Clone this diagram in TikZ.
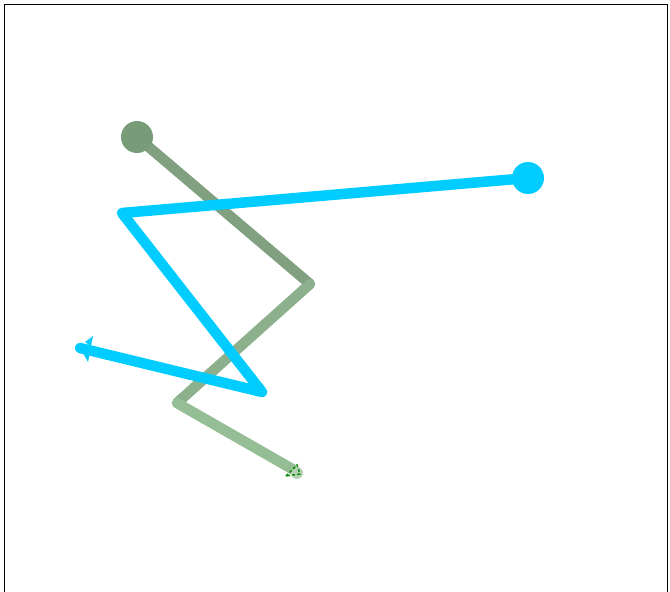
\documentclass[tikz,border=0pt]{standalone}
\usetikzlibrary{arrows.meta}
\definecolor{cyanline}{RGB}{0,204,255}
\definecolor{greenA}{RGB}{128,160,128}
\definecolor{greenB}{RGB}{140,176,140}
\definecolor{greenC}{RGB}{150,190,150}
\definecolor{greendot}{RGB}{120,155,120}
\definecolor{tipgreen}{RGB}{20,140,20}
\tikzset{
  thick line/.style={line width=10.5pt, line join=round},
}
\begin{document}
\begin{tikzpicture}[x=1pt,y=-1pt]
\useasboundingbox (0,0) rectangle (670,592);
\draw[line width=1pt] (4,600) -- (4,4.5) -- (667,4.5) -- (667,600);
% green polyline
\coordinate (g1) at (137,137);
\coordinate (g2) at (310,284);
\coordinate (g3) at (177,403);
\coordinate (g4) at (294,470);
\draw[thick line, greenA] (g1) -- (g2);
\draw[thick line, greenB] (g2) -- (g3);
\draw[thick line, greenC] (g3) -- (g4);
\fill[greenB] (g2) circle (5.25);
\fill[greenC] (g3) circle (5.25);
\fill[greendot] (g1) circle (16);
\fill[greenC!70] (297,473) circle (6);
\draw[tipgreen, line width=1.5pt, dash pattern=on 3pt off 2pt] (286,476) -- (297,465) -- (300,474) -- cycle;
% cyan polyline
\coordinate (c1) at (528,178);
\coordinate (c2) at (122,213);
\coordinate (c3) at (262,392);
\coordinate (c4) at (80,348);
\draw[thick line, cyanline, line cap=round] (c2) -- (c3) -- (c4);
\draw[thick line, cyanline] (c1) -- (c2);
\fill[cyanline] (c1) circle (16);
\fill[cyanline] (85,342) -- (93,336) -- (91,346) -- cycle;
\fill[cyanline] (83,353) -- (88,362) -- (90,352) -- cycle;
\end{tikzpicture}
\end{document}
